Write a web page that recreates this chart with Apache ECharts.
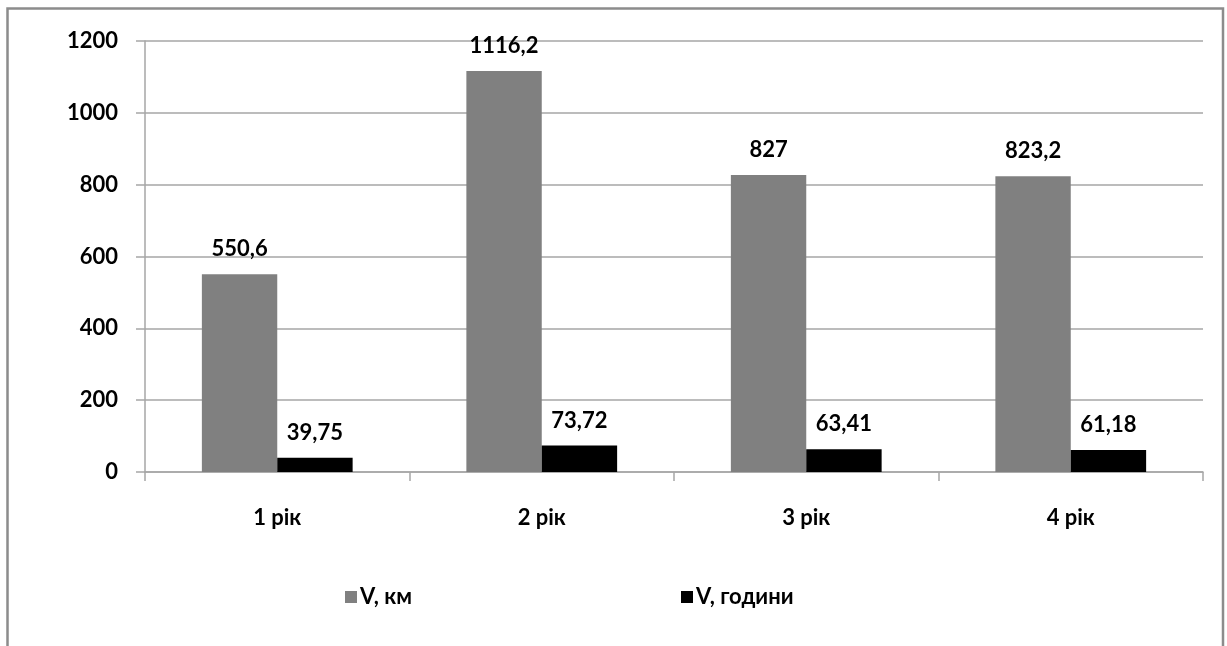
<!DOCTYPE html>
<html>
<head>
<meta charset="utf-8">
<title>V, км / V, години</title>
<script src="https://cdn.jsdelivr.net/npm/echarts@6/dist/echarts.min.js"></script>
<style>
  html, body { margin: 0; padding: 0; background: #fff; }
  #chart { width: 1227px; height: 646px; }
</style>
</head>
<body>
<div id="chart"></div>
<script>
// Categories and series values
const categories = ['1 рік', '2 рік', '3 рік', '4 рік'];
const seriesNames = ['V, км', 'V, години'];
const kmValues = [550.6, 1116.2, 827, 823.2];
const hoursValues = [39.75, 73.72, 63.41, 61.18];
const yTicks = { min: 0, max: 1200, interval: 200 };

const FONT = 'Lato, "Open Sans", sans-serif';
const FONT_SIZE = 22;
const GRID_COLOR = '#a6a6a6';

// Decimal comma, as printed on the labels
const fmt = v => String(v).replace('.', ',');

const chart = echarts.init(document.getElementById('chart'), null, { renderer: 'canvas' });

const labelStyle = {
  show: true,
  position: 'top',
  distance: 14,
  color: '#000',
  fontFamily: FONT,
  fontWeight: 'bold',
  fontSize: FONT_SIZE,
  formatter: p => fmt(p.value)
};

const legendText = {
  color: '#000', fontFamily: FONT, fontWeight: 'bold', fontSize: FONT_SIZE, padding: [0, 0, 0, -2]
};

chart.setOption({
  animation: false,
  backgroundColor: '#fff',
  graphic: [{
    type: 'rect',
    shape: { x: 7.5, y: 8.5, width: 1215.5, height: 700 },
    style: { fill: 'none', stroke: '#8c8c8c', lineWidth: 2.5 },
    silent: true
  }],
  grid: { left: 145, right: 24, top: 41, bottom: 174 },
  legend: [
    {
      data: [seriesNames[0]], left: 340, top: 581,
      icon: 'rect', itemWidth: 12, itemHeight: 12, itemGap: 6,
      textStyle: legendText
    },
    {
      data: [seriesNames[1]], left: 676, top: 581,
      icon: 'rect', itemWidth: 12, itemHeight: 12, itemGap: 6,
      textStyle: legendText
    }
  ],
  xAxis: {
    type: 'category',
    data: categories,
    axisLine: { show: true, lineStyle: { color: GRID_COLOR, width: 1.5 } },
    axisTick: { show: true, length: 9, lineStyle: { color: GRID_COLOR, width: 1.5 } },
    axisLabel: { margin: 35, color: '#000', fontFamily: FONT, fontWeight: 'bold', fontSize: FONT_SIZE }
  },
  yAxis: {
    type: 'value',
    min: yTicks.min,
    max: yTicks.max,
    interval: yTicks.interval,
    axisLine: { show: true, lineStyle: { color: GRID_COLOR, width: 1.5 } },
    axisTick: { show: true, length: 9, lineStyle: { color: GRID_COLOR, width: 1.5 } },
    splitLine: { show: true, lineStyle: { color: GRID_COLOR, width: 1.5 } },
    axisLabel: {
      margin: 27, color: '#000', fontFamily: FONT, fontWeight: 'bold', fontSize: FONT_SIZE,
      formatter: v => String(v)
    }
  },
  series: [
    {
      name: seriesNames[0],
      type: 'bar',
      data: kmValues,
      itemStyle: { color: '#808080' },
      barGap: '0%',
      barCategoryGap: '43%',
      label: labelStyle
    },
    {
      name: seriesNames[1],
      type: 'bar',
      data: hoursValues,
      itemStyle: { color: '#000000' },
      barGap: '0%',
      barCategoryGap: '43%',
      label: labelStyle
    }
  ]
});
</script>
</body>
</html>
